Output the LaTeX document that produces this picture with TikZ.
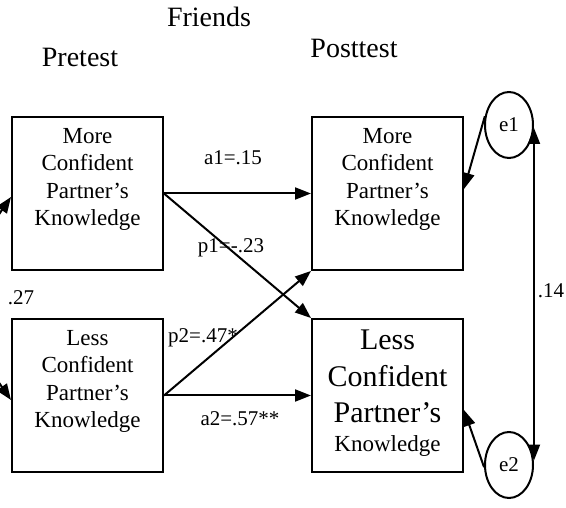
\documentclass[tikz,border=0pt]{standalone}
\usepackage{fontspec}
\setmainfont{Liberation Serif}
\usepackage{tikz}
\usetikzlibrary{positioning,arrows.meta,shapes.geometric,calc}
\tikzset{
  know-node/.style={draw, line width=2pt, minimum width=151pt, minimum height=153pt,
    inner sep=0pt, font=\fontsize{23}{27.5}\selectfont},
  error-node/.style={ellipse, draw, line width=2pt, minimum width=48pt, minimum height=66pt,
    inner sep=0pt, font=\fontsize{21}{25}\selectfont},
  path-arrow/.style={-{Triangle[length=16pt,width=12pt]}, line width=2pt},
  cov-arrow/.style={{Triangle[length=16pt,width=12pt]}-{Triangle[length=16pt,width=12pt]}, line width=2pt},
  coef-label/.style={font=\fontsize{21}{25}\selectfont, anchor=base, inner sep=0pt},
  time-label/.style={font=\fontsize{28}{33}\selectfont, anchor=base, inner sep=0pt}
}

\begin{document}
\begin{tikzpicture}[x=1pt, y=1pt]
\useasboundingbox (0,0) rectangle (566,-508);

% Headings
\node[time-label] (friends) at (209,-27) {Friends};
\node[time-label] (pretest) at (80,-67) {Pretest};
\node[time-label] (posttest) at (354,-58) {Posttest};

% Knowledge boxes
\node[know-node] (ml) at (87.5,-193.5)
  {\parbox[c][131pt][t]{145pt}{\centering More\\Confident\\Partner’s\\Knowledge}};
\node[know-node, below=47pt of ml] (ll)
  {\parbox[c][131pt][t]{145pt}{\centering Less\\Confident\\Partner’s\\Knowledge}};
\node[know-node, right=147pt of ml] (mr)
  {\parbox[c][131pt][t]{145pt}{\centering More\\Confident\\Partner’s\\Knowledge}};
\node[know-node, right=147pt of ll, font=\fontsize{30}{36.5}\selectfont] (lr)
  {\parbox[c][131pt][t]{145pt}{\centering Less\\Confident\\Partner’s\\[-8pt]{\fontsize{23}{27.5}\selectfont Knowledge}}};

% Error terms
\node[error-node] (e1) at (509,-125) {e1};
\node[error-node] (e2) at (509,-465) {e2};

% Paths
\draw[path-arrow] (ml.east) -- (mr.west);
\draw[path-arrow] (ll.east) -- (lr.west);
\draw[path-arrow] (ml.east) -- (lr.north west);
\draw[path-arrow] (ll.east) -- (mr.south west);
\draw[path-arrow] (e1.160) -- ([yshift=4.5pt]mr.east);
\draw[path-arrow] (e2.185) -- ([yshift=-14.5pt]lr.east);

% Covariances
\draw[cov-arrow] ([yshift=-3.5pt]ml.west) to[out=235, in=125] ([yshift=-4.5pt]ll.west);
\draw[cov-arrow] ([yshift=-3pt]e1.east) -- ([yshift=4.5pt]e2.east);

% Coefficients
\node[coef-label] (a1) at (233,-165) {a1=.15};
\node[coef-label] (p1) at (231,-253) {p1=-.23};
\node[coef-label] (p2) at (203,-343) {p2=.47*};
\node[coef-label] (a2) at (240,-425) {a2=.57**};
\node[coef-label] (r1) at (21,-305) {.27};
\node[coef-label] (r2) at (551,-298) {.14};
\end{tikzpicture}
\end{document}
